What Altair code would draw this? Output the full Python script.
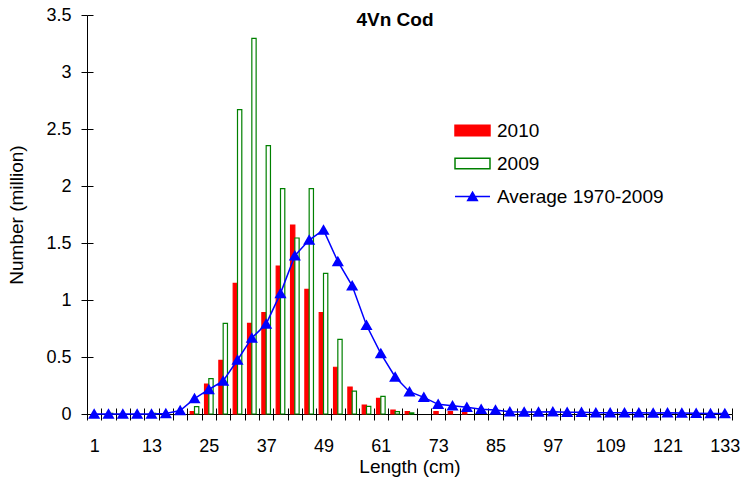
import altair as alt
import pandas as pd

lengths = list(range(1, 134, 3))  # 1, 4, ..., 133

n2010 = [0, 0, 0, 0, 0, 0, 0, 0.02, 0.263, 0.47, 1.146, 0.795, 0.889, 1.298, 1.658,
         1.094, 0.889, 0.41, 0.237, 0.079, 0.137, 0.035, 0.02, 0, 0.02, 0.02, 0.02, 0,
         0, 0, 0, 0, 0, 0, 0, 0, 0, 0, 0, 0, 0, 0, 0, 0, 0]

n2009 = [0, 0.006, 0, 0, 0.006, 0, 0, 0.065, 0.31, 0.795, 2.67, 3.295, 2.354, 1.977, 1.544,
         1.977, 1.234, 0.655, 0.20, 0.067, 0.155, 0.02, 0.01, 0, 0, 0, 0, 0,
         0, 0, 0, 0, 0, 0, 0, 0, 0, 0, 0, 0, 0, 0, 0, 0, 0]

avg = [0, 0, 0, 0, 0, 0.005, 0.03, 0.135, 0.215, 0.29, 0.474, 0.667, 0.79, 1.058, 1.389,
       1.526, 1.614, 1.338, 1.125, 0.778, 0.53, 0.325, 0.196, 0.146, 0.085, 0.073, 0.059,
       0.041, 0.035, 0.02, 0.018, 0.018, 0.02, 0.015, 0.015, 0.012, 0.012, 0.01, 0.01,
       0.008, 0.012, 0.008, 0.006, 0.005, 0.005]

series_names = ["2010", "2009", "Average 1970-2009"]
fill_colors = ["#FF0000", "#FFFFFF", "#0000FF"]
stroke_colors = ["#FF0000", "#008000", "#0000FF"]
title_text = ["4Vn Cod"]
y_ticks = [0, 0.5, 1, 1.5, 2, 2.5, 3, 3.5]

bars = pd.DataFrame(
    [{"length": l, "series": "2010", "value": v} for l, v in zip(lengths, n2010)]
    + [{"length": l, "series": "2009", "value": v} for l, v in zip(lengths, n2009)]
)
line = pd.DataFrame({"length": lengths, "series": "Average 1970-2009", "value": avg})

FONT = "Liberation Sans"

legend = alt.Legend(
    title=None,
    orient="none",
    legendX=376,
    legendY=106,
    labelFontSize=19,
    labelFont=FONT,
    labelColor="black",
    labelLimit=400,
    symbolSize=306,
    symbolStrokeWidth=1.5,
    symbolOpacity=1,
    rowPadding=13,
    labelOffset=15,
    padding=0,
    symbolType={
        "expr": "datum.value === 'Average 1970-2009' ? 'M-2,0H2M0,-0.5L0.55,0.45H-0.55Z' : 'M-2,-0.6H2V0.6H-2Z'"
    },
)

fill_scale = alt.Scale(domain=series_names, range=fill_colors)
stroke_scale = alt.Scale(domain=series_names, range=stroke_colors)
x_scale = alt.Scale(paddingInner=0, paddingOuter=0)
y_scale = alt.Scale(domain=[0, 3.5], nice=False)

# main axes (outward ticks, labels, titles)
x_main = alt.X(
    "length:O",
    scale=x_scale,
    sort="ascending",
    axis=alt.Axis(
        title="Length (cm)",
        orient="bottom",
        labelAngle=0,
        labelExpr="(datum.value - 1) % 12 == 0 ? datum.label : ''",
        tickBand="extent",
        tickSize=6,
        labelPadding=17,
        titlePadding=2,
    ),
)
y_main = alt.Y(
    "value:Q",
    scale=y_scale,
    axis=alt.Axis(
        title="Number (million)",
        orient="left",
        values=y_ticks,
        format="~g",
        tickSize=6,
        labelPadding=10,
        titlePadding=19,
        grid=False,
    ),
)

# companion axes giving the inward half of the crossing ticks
x_inner = alt.X(
    "length:O",
    scale=x_scale,
    sort="ascending",
    axis=alt.Axis(
        title=None,
        orient="bottom",
        labels=False,
        domain=False,
        tickBand="extent",
        tickSize=6,
        offset=-6,
    ),
)
y_inner = alt.Y(
    "value:Q",
    scale=y_scale,
    axis=alt.Axis(
        title=None,
        orient="left",
        values=y_ticks,
        labels=False,
        domain=False,
        tickSize=6,
        offset=-6,
        grid=False,
    ),
)

bar_layer = (
    alt.Chart(bars)
    .transform_filter("datum.value > 0")
    .mark_bar(strokeWidth=1.2)
    .encode(
        x=x_main,
        xOffset=alt.XOffset(
            "series:N",
            sort=["2010", "2009"],
            scale=alt.Scale(domain=["2010", "2009"], paddingOuter=0.667, paddingInner=0),
        ),
        y=y_main,
        fill=alt.Fill("series:N", scale=fill_scale, legend=legend),
        stroke=alt.Stroke("series:N", scale=stroke_scale, legend=legend),
    )
)

line_layer = (
    alt.Chart(line)
    .mark_line(strokeWidth=1.5)
    .encode(
        x=x_inner,
        y=y_inner,
        stroke=alt.Stroke("series:N", scale=stroke_scale, legend=legend),
    )
)

point_layer = (
    alt.Chart(line)
    .mark_point(shape="triangle-up", filled=True, size=75, opacity=1)
    .encode(
        x=alt.X("length:O", scale=x_scale, sort="ascending", axis=None),
        y=alt.Y("value:Q", scale=y_scale, axis=None),
        fill=alt.Fill("series:N", scale=fill_scale, legend=legend),
        stroke=alt.Stroke("series:N", scale=stroke_scale, legend=legend),
    )
)

title_layer = (
    alt.Chart(pd.DataFrame({"t": title_text}))
    .mark_text(font=FONT, fontSize=19, fontWeight="bold", color="black",
               align="center", baseline="alphabetic")
    .encode(text="t:N", x=alt.value(308), y=alt.value(11))
)

chart = (
    alt.layer(bar_layer, line_layer, point_layer, title_layer)
    .resolve_axis(x="independent", y="independent")
    .properties(
        width=645,
        height=399,
        autosize=alt.AutoSizeParams(type="none"),
        padding={"left": 87, "top": 15, "right": 12, "bottom": 70},
    )
    .configure_view(stroke=None)
    .configure_axis(
        labelFont=FONT,
        titleFont=FONT,
        labelFontSize=18,
        titleFontSize=19,
        titleFontWeight="normal",
        labelColor="black",
        titleColor="black",
        domainColor="black",
        tickColor="black",
        domainWidth=1,
        tickWidth=1,
    )
)

chart.save("out.html", embed_options={"renderer": "svg", "actions": False})
